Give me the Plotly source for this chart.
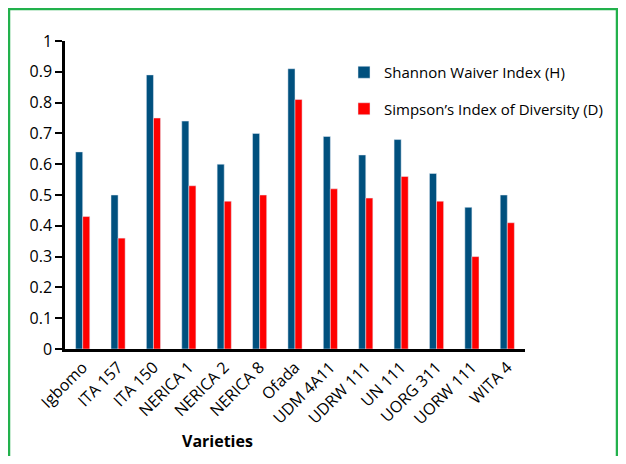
import plotly.graph_objects as go

varieties = ["Igbomo", "ITA 157", "ITA 150", "NERICA 1", "NERICA 2", "NERICA 8", "Ofada",
             "UDM 4A11", "UDRW 111", "UN 111", "UORG 311", "UORW 111", "WITA 4"]
shannon = [0.64, 0.50, 0.89, 0.74, 0.60, 0.70, 0.91, 0.69, 0.63, 0.68, 0.57, 0.46, 0.50]
simpson = [0.43, 0.36, 0.75, 0.53, 0.48, 0.50, 0.81, 0.52, 0.49, 0.56, 0.48, 0.30, 0.41]
y_ticks = [0, 0.1, 0.2, 0.3, 0.4, 0.5, 0.6, 0.7, 0.8, 0.9, 1]
y_tick_text = ["0", "0.1", "0.2", "0.3", "0.4", "0.5", "0.6", "0.7", "0.8", "0.9", "1"]

# The page body has an 8px margin, so the figure is sized to fit inside the
# window and every page position below is given minus that offset.
OFF = 8
W, H = 626 - 2 * OFF, 464 - 2 * OFF
L, R, T, B = 65 - OFF, 626 - 525 - OFF, 41 - OFF, 464 - 349 - OFF
pw, ph = W - L - R, H - T - B

def px_x(x):
    return (x - OFF - L) / pw

def px_y(y):
    return (H - B - (y - OFF)) / ph

def cx(x):
    return (x - OFF) / W

def cy(y):
    return 1 - (y - OFF) / H

font = "Open Sans, Noto Sans, sans-serif"

fig = go.Figure()
fig.add_trace(go.Bar(name="Shannon Waiver Index (H)", x=varieties, y=shannon,
                     marker_color="#00507E", legendgroup="h"))
fig.add_trace(go.Bar(name="Simpson\u2019s Index of Diversity (D)", x=varieties, y=simpson,
                     marker_color="#FF0000", legendgroup="d"))

fig.update_layout(
    width=W, height=H,
    margin=dict(l=L, r=R, t=T, b=B, autoexpand=False),
    paper_bgcolor="white", plot_bgcolor="rgba(0,0,0,0)",
    barmode="group", bargap=0.6, bargroupgap=0,
    font=dict(family=font, size=16, color="black"),
    showlegend=True,
    legend=dict(xref="container", yref="container", x=cx(344), y=cy(56),
                xanchor="left", yanchor="top",
                font=dict(size=15), tracegroupgap=14, itemwidth=30,
                bgcolor="rgba(0,0,0,0)"),
    xaxis=dict(showline=True, linecolor="black", linewidth=2.5, tickangle=-45,
               ticks="", showgrid=False, tickfont=dict(size=16)),
    yaxis=dict(range=[0, 1], tickvals=y_ticks, ticktext=y_tick_text, showline=True,
               linecolor="black", linewidth=2.5, ticks="outside", ticklen=7, tickwidth=1.5,
               tickcolor="black", showgrid=False, zeroline=False, tickfont=dict(size=16)),
    annotations=[dict(text="<b>Varieties</b>", x=px_x(217), y=px_y(441), xref="paper", yref="paper",
                      xanchor="center", yanchor="middle",
                      showarrow=False, font=dict(size=16))],
    shapes=[dict(type="rect", xref="paper", yref="paper",
                 x0=px_x(9), x1=px_x(617), y0=px_y(470), y1=px_y(9),
                 line=dict(color="#22B14C", width=2.5), layer="below")],
)

fig.write_html("out.html", config={"displayModeBar": False})
